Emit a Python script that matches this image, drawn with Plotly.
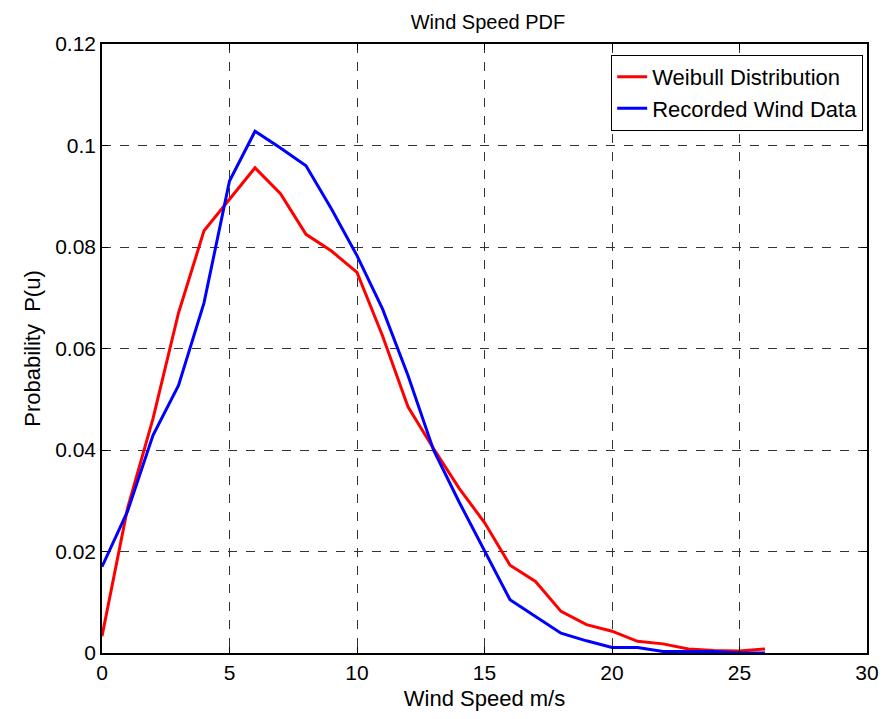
import plotly.graph_objects as go

wind_speed = list(range(0, 27))
weibull = [0.0033, 0.0285, 0.0462, 0.0670, 0.0832, 0.0894, 0.0956, 0.0905, 0.0825, 0.0792,
           0.0750, 0.0625, 0.0485, 0.0403, 0.0325, 0.0257, 0.0173, 0.0141, 0.0082, 0.0056,
           0.0043, 0.0023, 0.0018, 0.0008, 0.0005, 0.0004, 0.0008]
recorded = [0.0170, 0.0279, 0.0429, 0.0527, 0.0690, 0.0930, 0.1028, 0.0995, 0.0960, 0.0875,
            0.0783, 0.0678, 0.0547, 0.0400, 0.0298, 0.0200, 0.0105, 0.0072, 0.0039, 0.0024,
            0.0011, 0.0011, 0.0003, 0.0003, 0.0003, 0.0000, 0.0000]

x_ticks = [0, 5, 10, 15, 20, 25, 30]
y_ticks = [0, 0.02, 0.04, 0.06, 0.08, 0.1, 0.12]
y_tick_labels = ["0", "0.02", "0.04", "0.06", "0.08", "0.1", "0.12"]

fig = go.Figure()
fig.add_trace(go.Scatter(x=wind_speed, y=weibull, mode="lines", name="Weibull Distribution",
                         line=dict(color="#ff0000", width=3)))
fig.add_trace(go.Scatter(x=wind_speed, y=recorded, mode="lines", name="Recorded Wind Data",
                         line=dict(color="#0000ff", width=3)))

axis_common = dict(showline=True, linecolor="black", linewidth=1.5, mirror="ticks",
                   ticks="inside", ticklen=6, tickcolor="black",
                   showgrid=True, gridcolor="#333333", gridwidth=1, griddash="dash",
                   zeroline=False, tickfont=dict(size=21, color="black"))

# page body has an 8px margin; compensate so the plot area lands at 102..875 x 44..655
W, H = 883, 711
fig.update_layout(
    width=W, height=H,
    margin=dict(l=94, r=16, t=36, b=64),
    paper_bgcolor="white", plot_bgcolor="white",
    font=dict(family="Arial, Liberation Sans, sans-serif", color="black"),
    title=dict(text="Wind Speed PDF", x=480 / W, xanchor="center",
               y=1 - 14 / H, yanchor="middle",
               font=dict(size=20, color="black")),
    xaxis=dict(range=[0, 30], tickvals=x_ticks,
               title=dict(text="Wind Speed m/s", font=dict(size=22), standoff=8),
               **axis_common),
    yaxis=dict(range=[0, 0.12], tickvals=y_ticks, ticktext=y_tick_labels,
               title=dict(text="Probability  P(u)", font=dict(size=22), standoff=8),
               **axis_common),
    legend=dict(x=0.995, xanchor="right", y=0.982, yanchor="top",
                bgcolor="white", bordercolor="black", borderwidth=1,
                font=dict(size=22, color="black"), tracegroupgap=0),
    showlegend=True,
)

fig.write_html("out.html")
